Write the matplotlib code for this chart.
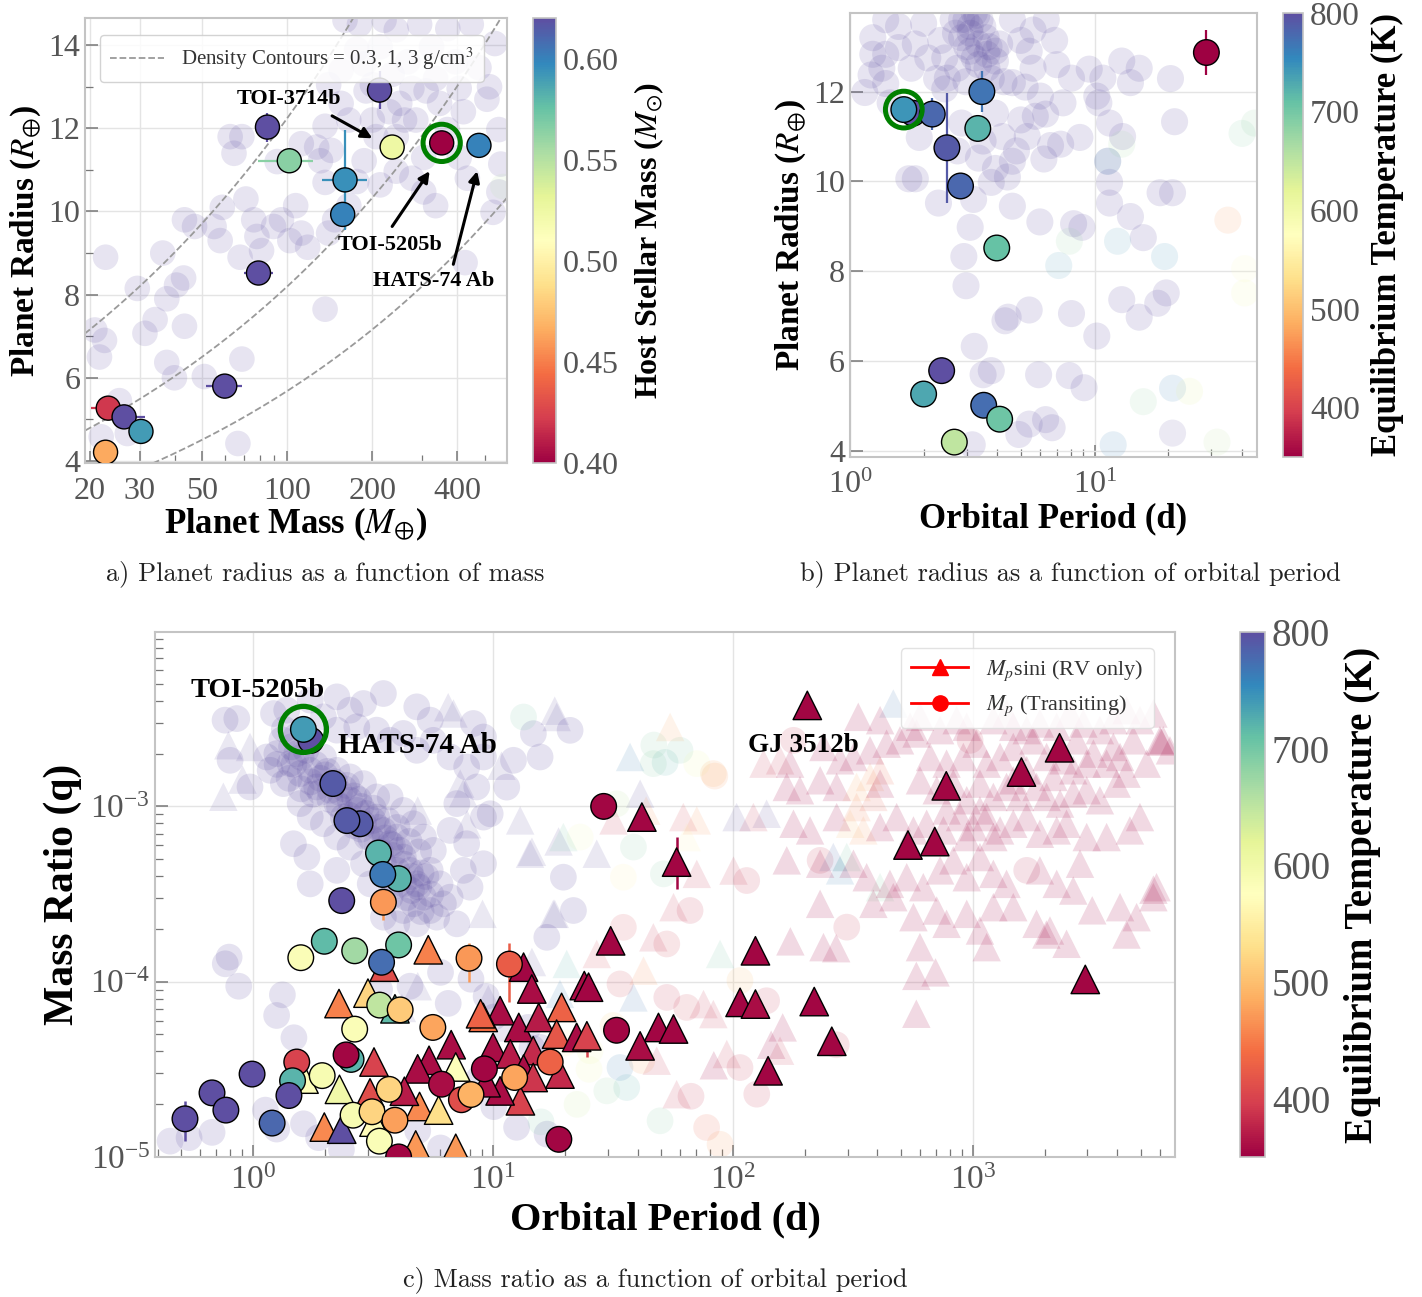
import numpy as np
import matplotlib
matplotlib.use("Agg")
import matplotlib.pyplot as plt
from matplotlib.colors import Normalize
from matplotlib.cm import ScalarMappable
from matplotlib.lines import Line2D
from matplotlib.ticker import FixedLocator, NullFormatter, FuncFormatter, LogLocator

plt.rcParams['font.family'] = ['Liberation Serif', 'DejaVu Serif']
plt.rcParams['mathtext.fontset'] = 'stix'

cmap = plt.get_cmap('Spectral')

# ---------------- Panel a data ----------------
hl_a_mass = [212, 85, 101.6, 235, 352, 477, 160, 157, 79, 60, 23.2, 26.4, 30.3, 22.7]
hl_a_radius = [12.92, 12.03, 11.22, 11.55, 11.65, 11.59, 10.76, 9.93, 8.52, 5.80, 5.27, 5.06, 4.71, 4.21]
hl_a_hostmass = [0.62, 0.62, 0.565, 0.525, 0.40, 0.60, 0.595, 0.60, 0.62, 0.62, 0.42, 0.62, 0.59, 0.465]
hl_a_mass_lo = [0, 0, 22.6, 0, 0, 0, 27, 0, 9, 8.4, 3.1, 1.8, 2.0, 0]
hl_a_mass_hi = [0, 0, 21.4, 0, 0, 0, 31, 0, 10, 9.0, 2.2, 4.9, 2.0, 0]
hl_a_radius_err = [0.45, 0.35, 0.0, 0.1, 0.1, 0.0, 1.2, 0.1, 0.1, 0.05, 0.05, 0.05, 0.05, 0.05]
BG_A_HOSTMASS = 0.62
bg_a_points = [
    (22.7, 8.9), (20.8, 7.15), (22.5, 6.9), (21.6, 6.5), (29.4, 8.15), (31.3, 7.07), (34.0, 7.4),
    (36.2, 9.0), (37.4, 7.9), (40.5, 8.23), (42.9, 8.4), (43.2, 9.8), (46.9, 9.64), (43.2, 7.24),
    (37.4, 6.37), (39.8, 6.0), (50.8, 6.03), (55.0, 9.64), (57.8, 9.3), (58.8, 10.1), (68.0, 8.9),
    (69.0, 6.45), (66.8, 4.42), (71.3, 10.3), (76.0, 9.8), (78.0, 9.4), (81.0, 9.06), (89.3, 9.64),
    (95.3, 9.8), (102, 9.3), (107, 10.14), (112, 9.48), (118, 9.14), (92.0, 11.2), (62.7, 11.8),
    (64.7, 11.4), (69.0, 11.8), (112, 11.63), (127, 11.55), (136, 12.05), (140, 13.05), (155, 13.4),
    (155, 12.6), (165, 12.2), (160, 14.6), (176, 13.9), (187, 13.55), (200, 13.05), (213, 13.96),
    (235, 13.3), (243, 14.37), (250, 12.6), (267, 13.6), (276, 12.96), (285, 12.2), (294, 14.5),
    (324, 13.96), (335, 13.2), (346, 12.6), (369, 11.97), (394, 13.6), (406, 12.96), (420, 12.4),
    (448, 14.5), (477, 13.46), (509, 12.7), (543, 14.04), (561, 11.97), (570, 11.14), (561, 10.47),
    (535, 9.98), (434, 10.8), (406, 11.3), (304, 11.3), (276, 10.8), (304, 10.47), (335, 10.14),
    (243, 10.97), (213, 10.64), (187, 11.22), (206, 11.8), (243, 11.8), (200, 12.2), (176, 10.72),
    (143, 11.47), (131, 11.22), (136, 10.7), (165, 10.14), (147, 9.8), (140, 9.48), (136, 7.65),
    (426, 8.77), (25.4, 5.45), (27.1, 4.66), (21.9, 4.58), (180, 14.5), (220, 14.6), (370, 14.4),
    (520, 13.0), (230, 12.4), (260, 12.2), (310, 12.9), (190, 12.9),
]
bg_a_colored = [(580, 10.6, 0.55)]

# ---------------- Panel b data ----------------
hl_b_period = [28.6, 1.81, 1.66, 2.17, 3.46, 3.33, 2.49, 2.83, 3.98, 2.37, 2.0, 3.52, 4.09, 2.67]
hl_b_radius = [12.87, 11.52, 11.6, 11.5, 12.0, 11.18, 10.75, 9.9, 8.52, 5.79, 5.27, 5.02, 4.71, 4.2]
hl_b_teq = [350, 800, 745, 780, 770, 720, 790, 780, 710, 800, 730, 775, 705, 650]
hl_b_radius_err = [0.5, 0.1, 0.15, 0.35, 0.45, 0.1, 1.23, 0.1, 0.1, 0.05, 0.05, 0.05, 0.1, 0.05]
BG_B_TEQ = 800
bg_b_points = [
    (1.40, 13.6), (1.24, 13.2), (1.58, 13.45), (1.58, 12.98), (1.40, 12.83), (1.22, 12.37), (1.15, 11.98),
    (1.40, 12.18), (1.46, 11.75), (1.78, 12.52), (1.85, 13.06), (2.0, 13.52), (2.08, 12.75), (2.26, 12.29),
    (2.44, 12.06), (2.35, 13.14), (2.64, 13.6), (2.86, 13.2), (2.98, 13.6), (3.1, 13.45), (3.22, 13.75),
    (3.1, 12.9), (3.35, 12.6), (3.63, 12.83), (3.93, 12.68), (4.09, 13.06), (4.61, 13.6), (4.99, 13.14),
    (5.4, 12.9), (5.6, 13.37), (4.61, 12.2), (5.6, 12.52), (6.34, 13.6), (6.86, 13.14), (7.42, 11.75),
    (8.04, 12.3), (8.7, 10.98), (7.26, 10.83), (10.2, 11.9), (10.4, 11.75), (11.5, 11.3), (11.3, 10.45),
    (11.5, 9.98), (11.5, 9.52), (12.9, 12.68), (15.2, 12.52), (14.0, 12.2), (14.0, 9.22), (15.8, 8.75),
    (12.9, 7.37), (15.2, 6.98), (18.1, 7.29), (19.6, 7.52), (18.5, 9.75), (20.8, 9.75), (20.4, 12.29),
    (21.2, 11.33), (10.2, 6.56), (7.88, 5.68), (9.05, 5.41), (8.04, 7.06), (8.2, 9.06), (8.87, 8.98),
    (5.97, 9.1), (5.4, 7.14), (4.43, 6.98), (5.4, 4.6), (6.7, 4.52), (4.9, 4.37), (3.78, 5.79),
    (3.22, 6.33), (3.16, 4.14), (2.98, 7.68), (2.92, 8.33), (3.1, 8.98), (2.3, 9.52), (4.61, 9.45),
    (3.78, 9.98), (1.74, 10.06), (1.85, 10.06), (2.75, 10.68), (3.35, 10.52), (3.93, 10.29), (4.61, 10.45),
    (4.79, 10.68), (4.99, 11.37), (5.72, 11.45), (3.93, 11.52), (2.86, 11.3), (2.86, 13.6), (3.1, 13.3),
    (3.35, 13.06), (3.63, 12.52), (3.93, 12.9), (3.49, 13.45), (3.22, 12.75), (2.75, 12.52), (2.98, 12.22),
    (3.78, 12.29), (4.26, 12.22), (2.44, 12.75), (1.24, 12.83), (1.35, 12.52), (1.92, 10.98),
    (3.0, 13.0), (3.3, 13.7), (2.7, 13.3), (3.6, 13.2), (4.2, 11.0), (3.5, 10.9), (4.4, 10.1),
    (3.2, 9.6), (6.2, 10.5), (6.0, 11.9), (5.2, 12.1), (7.0, 12.6), (9.5, 12.5), (10.8, 12.3),
    (13.0, 11.0), (5.3, 11.0), (6.3, 11.5), (6.6, 10.8), (3.4, 13.6), (3.7, 13.0), (2.5, 12.3),
    (5.9, 5.7), (3.5, 5.7), (4.3, 6.9), (6.3, 4.7),
]
bg_b_colored = [
    (45, 11.3, 680), (40, 11.07, 690), (35, 9.14, 470), (41, 8.06, 580), (41, 7.52, 600),
    (20.8, 5.4, 760), (24.4, 5.33, 620), (15.8, 5.1, 680), (11.9, 4.14, 760), (20.8, 4.4, 800),
    (31.6, 4.2, 650), (7.88, 8.67, 680), (7.13, 8.13, 740), (12.4, 8.67, 740), (19.3, 8.33, 750),
    (12.9, 10.83, 670), (11.3, 10.45, 740),
]

# ---------------- Panel c data ----------------
hl_c_circ_period = [1.74, 1.62, 2.15, 2.79, 2.46, 3.33, 4.03, 3.47, 2.34, 3.49, 1.58, 1.98, 2.65, 4.04,
                    3.43, 7.94, 11.7, 3.37, 4.10, 2.65, 5.61, 2.56, 2.44, 1.52, 0.99, 1.94, 1.46, 0.674,
                    1.41, 0.77, 0.52, 1.20, 2.61, 3.13, 3.36, 4.04, 3.90, 3.69, 6.10, 7.38, 8.09, 9.20,
                    12.3, 17.3, 18.8, 28.9, 32.7]
hl_c_circ_q = [2.38e-3, 2.75e-3, 1.35e-3, 7.96e-4, 8.3e-4, 5.42e-4, 3.87e-4, 4.09e-4, 2.9e-4, 2.84e-4,
               1.37e-4, 1.70e-4, 1.50e-4, 1.62e-4, 1.29e-4, 1.36e-4, 1.26e-4, 7.35e-5, 6.9e-5, 5.36e-5,
               5.48e-5, 3.6e-5, 3.82e-5, 3.48e-5, 2.97e-5, 2.91e-5, 2.72e-5, 2.32e-5, 2.24e-5, 1.85e-5,
               1.65e-5, 1.56e-5, 1.73e-5, 1.81e-5, 1.23e-5, 1.0e-5, 1.62e-5, 2.43e-5, 2.6e-5, 2.12e-5,
               2.27e-5, 3.18e-5, 2.84e-5, 3.48e-5, 1.26e-5, 1.0e-3, 5.28e-5]
hl_c_circ_teq = [800, 740, 790, 790, 790, 720, 720, 765, 800, 470, 585, 715, 670, 705, 775, 470, 425, 650,
                 510, 585, 480, 720, 355, 400, 800, 590, 720, 800, 800, 800, 800, 780, 590, 520, 585, 355,
                 475, 520, 360, 410, 490, 355, 480, 430, 355, 355, 355]
hl_c_tri_period = [41.7, 58.2, 30.9, 124, 13.4, 14.5, 24.0, 25.0, 107, 124, 218, 10.7, 19.3, 9.1, 12.8,
                   15.5, 18.4, 22.3, 24.6, 48.9, 56.5, 41.0, 140, 10.0, 11.8, 14.7, 13.4, 14.7, 13.0, 10.7,
                   19.0, 5.37, 3.52, 3.01, 2.28, 3.90, 6.69, 5.41, 4.85, 3.19, 8.87, 1.63, 2.29, 4.94, 5.93,
                   3.07, 3.19, 1.98, 2.34, 4.76, 6.99, 6.99, 9.36, 4.27, 204, 2296, 1592, 774, 536, 693,
                   2938, 258]
hl_c_tri_q = [8.69e-4, 4.81e-4, 1.71e-4, 1.50e-4, 1.21e-4, 9.08e-5, 9.5e-5, 9.3e-5, 7.62e-5, 7.45e-5,
              7.7e-5, 6.83e-5, 7.13e-5, 6.25e-5, 5.48e-5, 6.25e-5, 5.02e-5, 4.81e-5, 4.91e-5, 5.48e-5,
              5.37e-5, 4.3e-5, 3.1e-5, 4.22e-5, 3.87e-5, 4.04e-5, 3.17e-5, 2.84e-5, 2.09e-5, 2.38e-5,
              2.97e-5, 1.52e-4, 1.21e-4, 8.6e-5, 7.5e-5, 7.0e-5, 4.37e-5, 3.56e-5, 3.18e-5, 3.48e-5,
              6.56e-5, 2.78e-5, 2.43e-5, 1.94e-5, 1.85e-5, 2.32e-5, 1.58e-5, 1.48e-5, 1.44e-5, 1.17e-5,
              1.12e-5, 3.26e-5, 2.65e-5, 2.37e-5, 3.77e-3, 2.16e-3, 1.57e-3, 1.31e-3, 6.02e-4, 6.3e-4,
              1.03e-4, 4.57e-5]
hl_c_tri_teq = [355, 355, 355, 355, 355, 360, 360, 355, 355, 360, 355, 360, 430, 440, 360, 370, 420, 360,
                400, 355, 355, 360, 355, 360, 370, 380, 360, 390, 400, 360, 380, 455, 410, 520, 455, 715,
                360, 360, 360, 400, 430, 580, 600, 460, 530, 410, 570, 460, 800, 470, 470, 580, 360, 370,
                355, 355, 355, 355, 355, 355, 355, 355]
# error bars (period, q, lower, upper, Teq)
eb_c_period = [3.49, 7.94, 11.7, 0.52, 58.2, 24.6, 140, 2938]
eb_c_q = [2.84e-4, 1.36e-4, 1.26e-4, 1.65e-5, 4.81e-4, 4.91e-5, 3.1e-5, 1.03e-4]
eb_c_lo = [0.6e-4, 0.36e-4, 0.49e-4, 0.42e-5, 1.42e-4, 1.2e-5, 0.4e-5, 0.1e-4]
eb_c_hi = [0.1e-4, 0.3e-4, 0.4e-4, 0.43e-5, 1.9e-4, 0.5e-5, 0.3e-5, 0.05e-4]
eb_c_teq = [470, 470, 425, 800, 355, 400, 355, 355]

BG_C_PURPLE = 800
BG_C_PINK = 355
bg_c_purple_circles = [  # (log10 P, log10 q)
    (-0.117, -2.508), (-0.068, -2.499), (-0.096, -2.737), (-0.013, -2.889), (0.140, -2.451), (0.085, -2.470),
    (0.238, -2.394), (0.349, -2.375), (0.404, -2.451), (0.460, -2.413), (0.543, -2.356), (0.682, -2.432),
    (0.738, -2.508), (0.918, -2.527), (0.960, -2.604), (0.293, -2.489), (0.349, -2.565), (0.432, -2.546),
    (0.515, -2.565), (0.571, -2.623), (0.626, -2.584), (0.682, -2.680), (0.751, -2.623), (0.821, -2.718),
    (0.890, -2.775), (0.960, -2.718), (0.932, -2.889),
    (0.099, -2.699), (0.154, -2.756), (0.196, -2.813), (0.238, -2.794), (0.265, -2.889), (0.321, -2.908),
    (0.349, -2.984), (0.404, -2.965), (0.432, -3.023), (0.376, -3.061), (0.460, -3.099), (0.515, -3.061),
    (0.543, -3.137), (0.571, -3.213), (0.515, -3.213), (0.474, -3.175), (0.599, -3.175), (0.626, -3.289),
    (0.654, -3.365), (0.682, -3.442), (0.626, -3.442), (0.599, -3.365), (0.543, -3.327), (0.710, -3.518),
    (0.668, -3.556), (0.738, -3.594), (0.626, -3.594), (0.571, -3.518), (0.488, -3.442), (0.460, -3.327),
    (0.404, -3.232), (0.349, -3.175), (0.293, -3.099), (0.238, -3.061), (0.196, -2.984), (0.126, -2.870),
    (0.071, -2.794), (0.057, -2.718), (0.182, -2.699), (0.293, -2.718), (0.349, -2.794), (0.404, -2.832),
    (0.460, -2.870), (0.515, -2.946), (0.571, -2.946), (0.626, -3.023), (0.668, -3.099), (0.710, -3.175),
    (0.751, -3.251), (0.738, -3.365), (0.779, -3.442), (0.793, -3.556), (0.682, -3.670), (0.599, -3.670),
    (0.543, -3.632), (0.765, -3.632), (0.300, -2.820), (0.380, -2.900), (0.440, -2.960), (0.500, -3.010),
    (0.560, -3.080), (0.600, -3.120), (0.650, -3.200), (0.690, -3.260), (0.700, -3.380), (0.660, -3.480),
    (0.580, -3.280), (0.420, -3.110), (0.250, -2.930), (0.170, -2.760),
    (0.120, -2.620), (0.160, -2.660), (0.200, -2.720), (0.220, -2.680), (0.260, -2.760), (0.280, -2.840),
    (0.310, -2.800), (0.340, -2.860), (0.360, -2.920), (0.390, -2.880), (0.420, -2.940), (0.450, -3.000),
    (0.470, -3.040), (0.500, -3.080), (0.520, -3.120), (0.550, -3.180), (0.580, -3.220), (0.610, -3.250),
    (0.630, -3.330), (0.660, -3.400), (0.690, -3.460), (0.720, -3.400), (0.740, -3.500), (0.700, -3.600),
    (0.640, -3.520), (0.600, -3.450), (0.560, -3.400), (0.530, -3.260), (0.490, -3.180), (0.450, -3.130),
    (0.400, -3.050), (0.360, -3.000), (0.320, -2.960), (0.280, -2.920), (0.240, -2.860), (0.200, -2.900),
    (0.150, -2.840), (0.100, -2.760), (0.130, -2.560), (0.180, -2.600),
    (0.168, -3.213), (0.224, -3.289), (0.238, -3.442), (0.349, -3.365), (0.821, -3.137), (0.890, -3.213),
    (0.960, -3.327), (0.876, -3.365), (0.960, -3.061), (0.849, -2.984), (0.904, -3.461), (0.821, -3.518),
    (0.849, -3.670),
    (-0.116, -3.898), (0.122, -4.075), (0.098, -4.193), (0.170, -4.320), (-0.346, -4.910), (-0.267, -4.890),
    (-0.171, -4.860), (0.051, -4.733), (0.098, -4.841), (0.210, -4.811), (0.273, -4.890), (0.368, -4.959),
    (0.654, -4.026), (0.781, -3.947), (0.813, -4.124), (0.908, -3.986), (0.971, -4.084), (1.003, -4.202),
    (1.146, -4.261), (1.162, -4.379), (0.940, -4.556), (1.003, -4.713), (1.098, -4.831), (1.225, -4.870),
    (0.686, -4.851), (0.781, -4.949), (-0.060, -4.026), (0.527, -4.045), (-0.100, -3.860),
    (1.168, -2.585), (1.321, -2.566), (1.196, -2.718), (1.085, -2.737), (1.057, -2.890), (0.988, -3.042),
    (1.293, -3.404), (1.335, -3.594), (1.224, -3.747), (1.196, -4.375),
]
bg_c_purple_triangles = [
    (-0.124, -2.945), (-0.044, -2.847), (-0.013, -2.661), (-0.103, -2.651), (0.835, -2.470), (0.863, -2.870),
    (0.813, -2.434), (1.257, -2.454), (1.035, -2.768), (0.876, -2.925), (0.892, -3.102), (0.686, -3.024),
    (1.273, -3.200), (1.162, -3.259), (1.257, -3.613), (0.956, -3.613), (0.686, -4.026), (1.051, -4.261),
    (1.162, -3.888), (1.113, -3.080), (1.154, -3.270), (1.432, -3.270), (1.265, -2.490), (1.613, -2.928),
    (2.015, -3.061), (2.140, -3.042), (1.251, -3.613), (0.620, -4.150), (0.980, -4.100),
]
bg_c_mid_circles = [  # (log10 P, log10 q, Teq)
    (1.127, -2.490, 700), (1.363, -3.175, 590), (1.585, -3.232, 690), (1.668, -2.756, 690), (1.779, -2.680, 700),
    (1.849, -2.756, 600), (1.918, -2.813, 480), (1.515, -2.985, 650), (1.543, -3.404, 560), (1.710, -3.385, 690),
    (2.057, -3.423, 380), (1.821, -3.594, 380), (1.724, -3.785, 390), (1.543, -3.690, 400), (1.529, -4.013, 390),
    (1.724, -4.090, 380), (1.807, -4.147, 390), (2.029, -4.490, 380), (2.140, -4.109, 380), (2.099, -4.642, 380),
    (1.890, -4.832, 430), (1.946, -4.928, 470), (1.696, -4.794, 690), (1.557, -4.604, 720), (1.529, -4.490, 760),
    (1.404, -4.394, 600), (2.029, -3.994, 500), (1.127, -4.566, 760), (1.474, -4.623, 680), (1.300, -4.350, 560),
    (1.400, -4.500, 600), (1.350, -4.700, 640), (1.200, -4.800, 700), (1.500, -4.250, 520), (1.620, -4.450, 480),
    (2.252, -2.623, 380), (2.988, -2.623, 380), (3.224, -3.365, 370), (2.363, -3.308, 380), (2.474, -3.689, 380),
    (1.825, -4.654, 380), (2.430, -4.360, 380), (1.670, -2.650, 690), (1.717, -2.749, 720), (1.924, -2.827, 470),
]
bg_c_mid_triangles = [
    (1.293, -3.175, 700), (1.571, -2.718, 760), (1.738, -2.547, 480), (1.502, -3.080, 380), (1.793, -3.061, 400),
    (1.849, -3.080, 470), (1.807, -3.175, 560), (1.849, -3.385, 380), (2.002, -3.366, 380), (2.085, -3.061, 380),
    (2.127, -2.756, 380), (2.196, -2.737, 380), (1.752, -3.575, 380), (1.668, -3.747, 380), (1.432, -3.842, 400),
    (1.627, -3.937, 460), (1.877, -4.128, 380), (1.918, -4.185, 380), (1.974, -4.413, 380), (2.196, -4.394, 380),
    (1.765, -4.642, 380), (1.682, -4.451, 380), (1.946, -3.842, 700), (1.307, -3.899, 720), (1.279, -4.070, 760),
    (1.585, -4.090, 770), (1.638, -3.024, 470),
    (2.515, -2.889, 480), (2.571, -2.832, 470), (2.488, -3.099, 500), (2.543, -3.137, 470), (2.613, -2.794, 430),
    (2.668, -2.413, 770), (2.418, -3.289, 780), (2.446, -3.365, 760), (2.515, -3.004, 450), (2.585, -2.946, 420),
    (2.474, -3.289, 700), (2.613, -3.461, 690),
]
bg_c_pink_triangles = [
    (2.522, -2.489), (2.613, -2.508), (2.738, -2.546), (2.779, -2.489), (2.863, -2.565), (2.932, -2.508),
    (2.974, -2.546), (3.085, -2.508), (3.140, -2.470), (3.168, -2.546), (3.224, -2.565), (3.279, -2.527),
    (3.349, -2.546), (3.404, -2.470), (3.460, -2.527), (3.529, -2.565), (3.585, -2.508), (3.640, -2.451),
    (3.696, -2.508), (3.752, -2.470), (3.779, -2.623), (3.821, -2.680),
    (2.238, -2.756), (2.377, -2.661), (2.446, -2.737), (2.502, -2.718), (2.571, -2.680), (2.640, -2.642),
    (2.696, -2.623), (2.765, -2.584), (2.821, -2.718), (2.890, -2.756), (2.960, -2.718), (3.015, -2.642),
    (3.057, -2.756), (3.113, -2.718), (3.168, -2.661), (3.252, -2.623), (3.307, -2.718), (3.377, -2.737),
    (3.432, -2.623), (3.502, -2.699), (3.557, -2.756), (3.613, -2.718), (3.668, -2.623), (3.724, -2.756),
    (3.793, -2.623),
    (2.224, -2.889), (2.279, -2.908), (2.363, -2.851), (2.432, -2.889), (2.613, -2.870), (2.779, -2.851),
    (2.849, -2.908), (2.918, -2.870), (2.974, -2.965), (3.029, -2.870), (3.085, -2.946), (3.140, -2.889),
    (3.196, -2.946), (3.265, -2.889), (3.307, -2.946), (3.363, -2.984), (3.418, -2.927), (3.474, -2.908),
    (3.529, -2.965), (3.599, -2.870), (3.640, -2.813),
    (2.252, -3.099), (2.321, -3.137), (2.432, -3.061), (2.613, -3.118), (2.682, -3.061), (2.752, -3.137),
    (2.807, -3.099), (2.877, -3.137), (2.946, -3.061), (3.002, -3.118), (3.057, -3.061), (3.113, -3.137),
    (3.168, -3.099), (3.224, -3.061), (3.279, -3.156), (3.349, -3.137), (3.390, -3.099), (3.474, -3.175),
    (3.557, -3.175), (3.654, -3.137), (3.696, -3.061),
    (2.224, -3.308), (2.363, -3.327), (2.502, -3.327), (2.557, -3.404), (2.654, -3.442), (2.724, -3.404),
    (2.793, -3.461), (2.863, -3.365), (2.918, -3.308), (2.974, -3.404), (3.029, -3.289), (3.085, -3.385),
    (3.140, -3.442), (3.279, -3.365), (3.349, -3.442), (3.418, -3.480), (3.446, -3.327), (3.765, -3.461),
    (2.363, -3.556), (2.585, -3.556), (2.668, -3.518), (2.752, -3.632), (2.849, -3.594), (2.890, -3.670),
    (2.974, -3.613), (3.029, -3.708), (3.085, -3.575), (3.168, -3.575), (3.265, -3.670), (3.321, -3.708),
    (3.390, -3.784), (3.613, -3.575), (3.682, -3.632), (3.752, -3.518), (2.779, -3.803), (3.057, -3.803),
    (2.377, -3.803),
    (3.168, -2.851), (3.224, -2.794), (3.418, -2.794), (3.085, -3.175), (3.029, -3.023), (2.974, -3.175),
    (2.890, -3.023), (3.474, -2.756), (3.335, -2.832), (3.585, -2.661),
    (2.764, -3.967), (2.844, -3.947), (2.764, -4.183), (3.306, -3.731), (3.497, -3.593), (3.752, -3.475),
    (3.640, -3.731), (2.239, -3.770), (2.430, -3.809), (2.207, -4.261), (2.159, -4.360), (1.920, -4.477),
    (3.783, -2.631),
]

# ---------------- figure ----------------
fig = plt.figure(figsize=(14.22, 12.97), dpi=100)
ax_a = fig.add_axes([0.0598, 0.643, 0.2968, 0.343])
cax_a = fig.add_axes([0.3748, 0.643, 0.0162, 0.343])
ax_b = fig.add_axes([0.5977, 0.6477, 0.2862, 0.3423])
cax_b = fig.add_axes([0.9023, 0.6477, 0.0141, 0.3423])
ax_c = fig.add_axes([0.109, 0.108, 0.7173, 0.4048])
cax_c = fig.add_axes([0.872, 0.108, 0.0176, 0.4048])

TICK_C = '#555555'


def style(ax, labelsize=23, xpad=6):
    for s in ax.spines.values():
        s.set_color('#c4c4c4')
        s.set_linewidth(1.5)
    ax.grid(True, which='major', color='#e4e4e4', lw=1.0)
    ax.set_axisbelow(True)
    ax.tick_params(which='both', direction='in', color='#777777', labelcolor=TICK_C)
    ax.tick_params(which='major', length=9, width=1.1, labelsize=labelsize)
    ax.tick_params(which='minor', length=6, width=0.9)
    ax.tick_params(axis='x', which='major', pad=xpad)


def style_cbar(cb, cax, label, labelsize, ticksize, labelpad):
    cb.outline.set_edgecolor('#c4c4c4')
    cb.outline.set_linewidth(1.2)
    cax.tick_params(length=0, labelsize=ticksize, labelcolor=TICK_C, pad=5)
    cb.set_label(label, fontsize=labelsize, fontweight='bold', labelpad=labelpad)


bold = dict(fontweight='bold', color='black')

# ================= Panel a =================
norm_a = Normalize(0.40, 0.62)
bg_a = np.array(bg_a_points)
ax_a.scatter(bg_a[:, 0], bg_a[:, 1], s=340, color=cmap(norm_a(BG_A_HOSTMASS)), alpha=0.15,
             edgecolors='none', zorder=1)
for m, r, h in bg_a_colored:
    ax_a.scatter([m], [r], s=340, color=cmap(norm_a(h)), alpha=0.12, edgecolors='none', zorder=1)

R_grid = np.linspace(3.5, 15.5, 300)
for i, rho in enumerate([0.3, 1.0, 3.0]):
    ax_a.plot(rho / 5.514 * R_grid ** 3, R_grid, ls='--', color='#9a9a9a', lw=1.3, zorder=2,
              label='Density Contours = 0.3, 1, 3 g/cm$^3$' if i == 0 else None)

for m, r, h, mlo, mhi, rerr in zip(hl_a_mass, hl_a_radius, hl_a_hostmass, hl_a_mass_lo, hl_a_mass_hi, hl_a_radius_err):
    if mlo or mhi or rerr:
        ax_a.errorbar([m], [r], xerr=[[mlo], [mhi]], yerr=[[rerr], [rerr]], fmt='none',
                      ecolor=cmap(norm_a(h)), elinewidth=1.6, capsize=0, zorder=3)
ax_a.scatter(hl_a_mass, hl_a_radius, c=[cmap(norm_a(v)) for v in hl_a_hostmass], s=300,
             edgecolors='black', linewidths=1.0, zorder=4)
ax_a.scatter([hl_a_mass[4]], [hl_a_radius[4]], s=720, facecolors='none', edgecolors='green',
             linewidths=3.6, zorder=5)

ax_a.text(101.6, 12.71, 'TOI-3714b', ha='center', va='center', fontsize=16, zorder=6, **bold)
ax_a.text(231, 9.19, 'TOI-5205b', ha='center', va='center', fontsize=16, zorder=6, **bold)
ax_a.text(330, 8.32, 'HATS-74 Ab', ha='center', va='center', fontsize=16, zorder=6, **bold)
arrow_kw = dict(arrowstyle='-|>', color='black', lw=2.2, mutation_scale=16, shrinkA=0, shrinkB=0)
ax_a.annotate('', xy=(200, 11.76), xytext=(144, 12.3), arrowprops=arrow_kw, zorder=6)
ax_a.annotate('', xy=(319, 10.97), xytext=(235, 9.64), arrowprops=arrow_kw, zorder=6)
ax_a.annotate('', xy=(470, 10.97), xytext=(387, 8.73), arrowprops=arrow_kw, zorder=6)

ax_a.set_xscale('log')
ax_a.set_xlim(19.2, 600)
ax_a.set_ylim(3.95, 14.65)
style(ax_a, xpad=10)
ax_a.xaxis.set_major_locator(FixedLocator([20, 30, 50, 100, 200, 400]))
ax_a.xaxis.set_major_formatter(FuncFormatter(lambda v, p: f'{v:g}'))
ax_a.xaxis.set_minor_locator(FixedLocator([40, 60, 70, 80, 90, 300, 500]))
ax_a.xaxis.set_minor_formatter(NullFormatter())
ax_a.yaxis.set_major_locator(FixedLocator([4, 6, 8, 10, 12, 14]))
ax_a.yaxis.set_minor_locator(FixedLocator([5, 7, 9, 11, 13]))
ax_a.set_xlabel('Planet Mass ($M_{\\oplus}$)', fontsize=25, labelpad=0, **bold)
ax_a.set_ylabel('Planet Radius ($R_{\\oplus}$)', fontsize=24, labelpad=4, **bold)
leg = ax_a.legend(loc='upper left', fontsize=15, frameon=True, framealpha=0.85, edgecolor='#cccccc',
                  handlelength=2.6, borderpad=0.5, bbox_to_anchor=(0.01, 0.985))
for t in leg.get_texts():
    t.set_color('#333333')

cb_a = fig.colorbar(ScalarMappable(norm=norm_a, cmap=cmap), cax=cax_a, ticks=[0.40, 0.45, 0.50, 0.55, 0.60])
cb_a.ax.set_yticklabels(['0.40', '0.45', '0.50', '0.55', '0.60'])
style_cbar(cb_a, cax_a, 'Host Stellar Mass ($M_{\\odot}$)', 23, 23, 10)

# ================= Panel b =================
norm_T = Normalize(350, 800)
bg_b = np.array(bg_b_points)
ax_b.scatter(bg_b[:, 0], bg_b[:, 1], s=380, color=cmap(norm_T(BG_B_TEQ)), alpha=0.15,
             edgecolors='none', zorder=1)
for p, r, t in bg_b_colored:
    ax_b.scatter([p], [r], s=380, color=cmap(norm_T(t)), alpha=0.12, edgecolors='none', zorder=1)
for p, r, t, e in zip(hl_b_period, hl_b_radius, hl_b_teq, hl_b_radius_err):
    if e:
        ax_b.errorbar([p], [r], yerr=[[e], [e]], fmt='none', ecolor=cmap(norm_T(t)), elinewidth=1.6,
                      capsize=0, zorder=3)
ax_b.scatter(hl_b_period, hl_b_radius, c=[cmap(norm_T(v)) for v in hl_b_teq], s=340,
             edgecolors='black', linewidths=1.0, zorder=4)
ax_b.scatter([hl_b_period[2]], [hl_b_radius[2]], s=700, facecolors='none', edgecolors='green',
             linewidths=3.6, zorder=5)
ax_b.set_xscale('log')
ax_b.set_xlim(1.0, 46)
ax_b.set_ylim(3.87, 13.75)
style(ax_b, xpad=10)
ax_b.xaxis.set_major_locator(LogLocator(base=10, numticks=10))
ax_b.xaxis.set_minor_formatter(NullFormatter())
ax_b.yaxis.set_major_locator(FixedLocator([4, 6, 8, 10, 12]))
ax_b.set_xlabel('Orbital Period (d)', fontsize=25, labelpad=2, **bold)
ax_b.set_ylabel('Planet Radius ($R_{\\oplus}$)', fontsize=24, labelpad=4, **bold)

cb_b = fig.colorbar(ScalarMappable(norm=norm_T, cmap=cmap), cax=cax_b, ticks=[400, 500, 600, 700, 800])
style_cbar(cb_b, cax_b, 'Equilibrium Temperature (K)', 25, 24, 8)

# ================= Panel c =================
pc = np.array(bg_c_purple_circles)
ax_c.scatter(10 ** pc[:, 0], 10 ** pc[:, 1], s=370, marker='o', color=cmap(norm_T(BG_C_PURPLE)),
             alpha=0.16, edgecolors='none', zorder=1)
pt = np.array(bg_c_purple_triangles)
ax_c.scatter(10 ** pt[:, 0], 10 ** pt[:, 1], s=420, marker='^', color=cmap(norm_T(BG_C_PURPLE)),
             alpha=0.13, edgecolors='none', zorder=1)
mc = np.array(bg_c_mid_circles)
ax_c.scatter(10 ** mc[:, 0], 10 ** mc[:, 1], s=370, marker='o', c=cmap(norm_T(mc[:, 2])),
             alpha=0.13, edgecolors='none', zorder=1)
mt = np.array(bg_c_mid_triangles)
ax_c.scatter(10 ** mt[:, 0], 10 ** mt[:, 1], s=420, marker='^', c=cmap(norm_T(mt[:, 2])),
             alpha=0.13, edgecolors='none', zorder=1)
kt = np.array(bg_c_pink_triangles)
ax_c.scatter(10 ** kt[:, 0], 10 ** kt[:, 1], s=420, marker='^', color=cmap(norm_T(BG_C_PINK)),
             alpha=0.15, edgecolors='none', zorder=1)

for p, q, lo, hi, t in zip(eb_c_period, eb_c_q, eb_c_lo, eb_c_hi, eb_c_teq):
    ax_c.errorbar([p], [q], yerr=[[lo], [hi]], fmt='none', ecolor=cmap(norm_T(t)), elinewidth=1.8,
                  capsize=0, zorder=3)
ax_c.scatter(hl_c_tri_period, hl_c_tri_q, c=[cmap(norm_T(v)) for v in hl_c_tri_teq], s=420, marker='^',
             edgecolors='black', linewidths=1.0, zorder=4)
ax_c.scatter(hl_c_circ_period, hl_c_circ_q, c=[cmap(norm_T(v)) for v in hl_c_circ_teq], s=340, marker='o',
             edgecolors='black', linewidths=1.0, zorder=4)
ax_c.scatter([hl_c_circ_period[1]], [hl_c_circ_q[1]], s=1100, facecolors='none', edgecolors='green',
             linewidths=3.8, zorder=5)

ax_c.text(0.55, 4.6e-3, 'TOI-5205b', ha='left', va='center', fontsize=20.5, zorder=6, **bold)
ax_c.text(2.26, 2.23e-3, 'HATS-74 Ab', ha='left', va='center', fontsize=21, zorder=6, **bold)
ax_c.text(115, 2.23e-3, 'GJ 3512b', ha='left', va='center', fontsize=19.5, zorder=6, **bold)

ax_c.set_xscale('log')
ax_c.set_yscale('log')
ax_c.set_xlim(0.39, 6950)
ax_c.set_ylim(1e-5, 9.9e-3)
style(ax_c, labelsize=24)
ax_c.xaxis.set_major_locator(LogLocator(base=10, numticks=12))
ax_c.xaxis.set_minor_locator(LogLocator(base=10, subs=np.arange(2, 10), numticks=12))
ax_c.xaxis.set_minor_formatter(NullFormatter())
ax_c.yaxis.set_major_locator(LogLocator(base=10, numticks=12))
ax_c.yaxis.set_minor_locator(LogLocator(base=10, subs=np.arange(2, 10), numticks=12))
ax_c.yaxis.set_minor_formatter(NullFormatter())
ax_c.set_xlabel('Orbital Period (d)', fontsize=29, labelpad=4, **bold)
ax_c.set_ylabel('Mass Ratio (q)', fontsize=30, labelpad=6, **bold)

handles = [Line2D([0], [0], color='red', lw=2, marker='^', markersize=11),
           Line2D([0], [0], color='red', lw=2, marker='o', markersize=11)]
leg_c = ax_c.legend(handles, ['$M_p$sini (RV only)', '$M_p$ (Transiting)'], loc='upper right',
                    fontsize=16, frameon=True, framealpha=0.85, edgecolor='#dddddd', handlelength=2.6,
                    borderpad=0.45, bbox_to_anchor=(0.99, 0.99))
for t in leg_c.get_texts():
    t.set_color('#333333')

cb_c = fig.colorbar(ScalarMappable(norm=norm_T, cmap=cmap), cax=cax_c, ticks=[400, 500, 600, 700, 800])
style_cbar(cb_c, cax_c, 'Equilibrium Temperature (K)', 28, 28, 10)

# captions
cap_kw = dict(ha='center', va='center', fontsize=19, family=['cmr10', 'DejaVu Serif'], color='#222222')
fig.text(0.2286, 0.558, 'a) Planet radius as a function of mass', **cap_kw)
fig.text(0.7525, 0.558, 'b) Planet radius as a function of orbital period', **cap_kw)
fig.text(0.4606, 0.0131, 'c) Mass ratio as a function of orbital period', **cap_kw)

fig.savefig('out.png', dpi=100)
